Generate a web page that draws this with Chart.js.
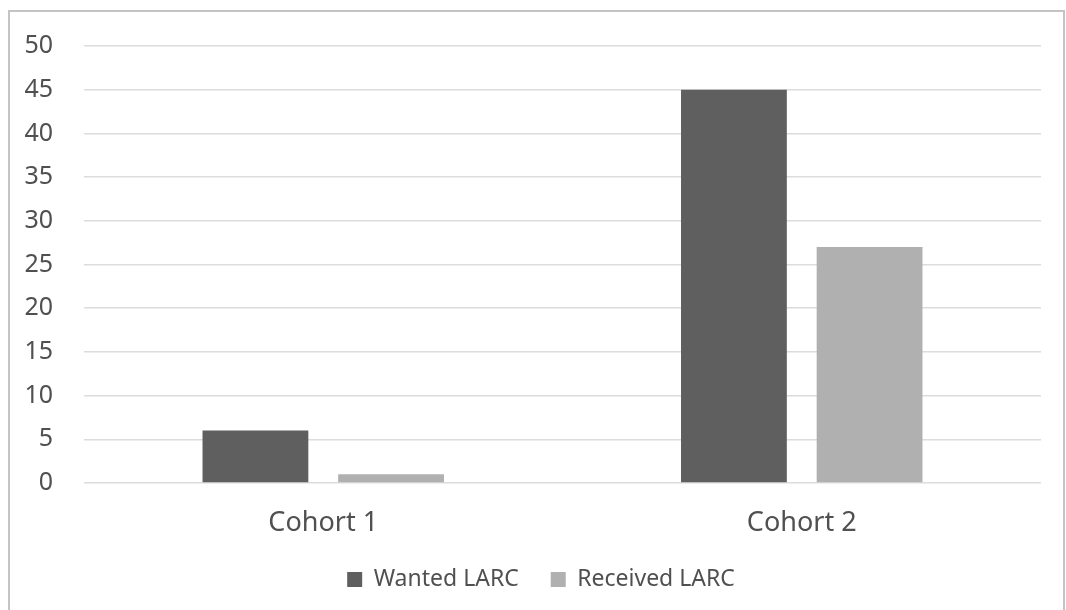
<!DOCTYPE html>
<html>
<head>
<meta charset="utf-8">
<style>
  html, body { margin: 0; padding: 0; background: #ffffff; }
  #wrap { position: relative; width: 1066px; height: 610px; }
</style>
<script src="https://cdn.jsdelivr.net/npm/chart.js@4/dist/chart.umd.min.js"></script>
</head>
<body>
<div id="wrap"><canvas id="chart" width="1066" height="610"></canvas></div>
<script>
// Cohort categories and the two LARC series
const categories = ['Cohort 1', 'Cohort 2'];
const wantedLARC = [6, 45];
const receivedLARC = [1, 27];
const seriesNames = ['Wanted LARC', 'Received LARC'];

const textColor = '#505050';
const fontFamily = '"Noto Sans", "Open Sans", sans-serif';

// Light grey frame around the whole chart, plus a small legend nudge
const framePlugin = {
  id: 'frame',
  beforeDraw(chart) {
    const ctx = chart.ctx;
    ctx.save();
    ctx.fillStyle = '#ffffff';
    ctx.fillRect(0, 0, chart.width, chart.height);
    ctx.strokeStyle = '#c4c4c4';
    ctx.lineWidth = 2;
    ctx.strokeRect(9, 11, 1055, 620);
    ctx.restore();
  },
  afterLayout(chart) {
    const lg = chart.legend;
    if (lg) { lg.left += 16; lg.right += 16; }
  }
};

new Chart(document.getElementById('chart'), {
  type: 'bar',
  data: {
    labels: categories,
    datasets: [
      {
        label: seriesNames[0],
        data: wantedLARC,
        backgroundColor: '#5f5f5f',
        borderWidth: 0,
        categoryPercentage: 0.567,
        barPercentage: 0.78
      },
      {
        label: seriesNames[1],
        data: receivedLARC,
        backgroundColor: '#b0b0b0',
        borderWidth: 0,
        categoryPercentage: 0.567,
        barPercentage: 0.78
      }
    ]
  },
  options: {
    responsive: false,
    animation: false,
    layout: { padding: { left: 9, right: 25, top: 39, bottom: 9 } },
    plugins: {
      legend: {
        position: 'bottom',
        labels: {
          boxWidth: 15,
          boxHeight: 15,
          padding: 32,
          color: textColor,
          font: { family: fontFamily, size: 23 }
        }
      },
      tooltip: { enabled: false }
    },
    scales: {
      x: {
        grid: { display: false },
        border: { display: false },
        ticks: {
          color: textColor,
          padding: 16,
          font: { family: fontFamily, size: 27 }
        },
        afterFit(scale) { scale.height = 53; }
      },
      y: {
        min: 0,
        max: 50,
        ticks: {
          stepSize: 5,
          color: textColor,
          padding: 31,
          font: { family: fontFamily, size: 25 }
        },
        grid: { color: '#dcdcdc', lineWidth: 1.5, tickLength: 0 },
        border: { display: false },
        afterFit(scale) { scale.width = 75; }
      }
    }
  },
  plugins: [framePlugin]
});
</script>
</body>
</html>
